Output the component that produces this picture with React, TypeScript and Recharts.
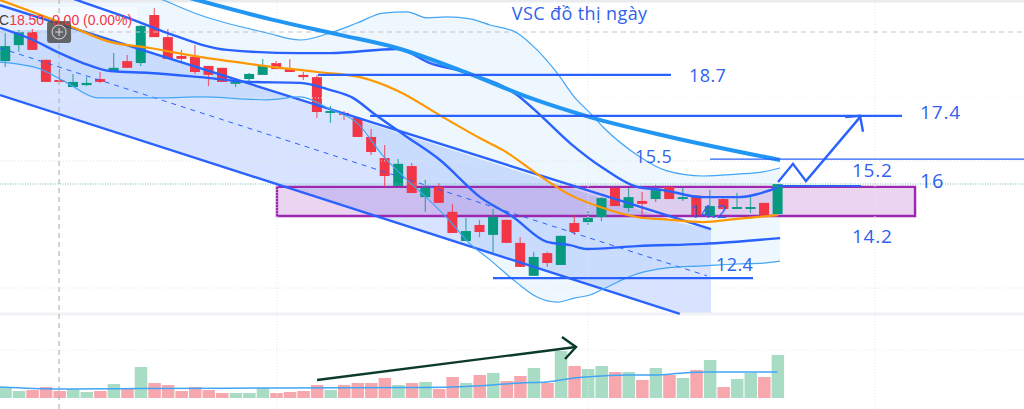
import {
  Area,
  Bar,
  ComposedChart,
  Line,
  ReferenceArea,
  ReferenceDot,
  ReferenceLine,
  XAxis,
  YAxis,
} from "recharts";

// daily candles, one entry per session
const opens = [19.09, 19.59, 20, 19.13, 18.5, 18.28, 18.34, 18.53, 18.75, 19.09, 19.03, 20.53, 19.84, 19.25, 19.22, 18.94, 18.88, 18.38, 18.53, 18.66, 19.03, 18.84, 18.66, 18.59, 17.47, 17.47, 17.31, 16.72, 16.06, 15.19, 15.81, 14.84, 15.16, 14.38, 13.47, 13.97, 13.66, 14.13, 13.41, 12.38, 13.09, 12.72, 14.03, 14.06, 14.22, 15.13, 14.5, 14.72, 14.78, 15.16, 14.78, 14.88, 14.25, 14.78, 14.47, 14.47, 14.66, 14.31];
const highs = [19.97, 20.06, 20.09, 19.13, 18.84, 18.69, 18.59, 18.75, 19.34, 19.28, 20.22, 20.75, 20.09, 19.44, 19.59, 18.94, 18.88, 18.53, 18.72, 19.16, 19.09, 19.16, 18.75, 18.66, 17.69, 17.53, 17.31, 16.97, 16.47, 16.03, 15.91, 15.38, 15.28, 14.63, 14.19, 14.13, 14.47, 14.13, 13.59, 13.13, 13.13, 13.63, 14.28, 14.41, 14.84, 15.13, 15.13, 15, 15.22, 15.16, 15.13, 14.91, 15.06, 14.81, 14.97, 14.88, 14.66, 15.25];
const lows = [18.91, 19.38, 19.44, 18.44, 18.41, 18.28, 18.31, 18.41, 18.75, 18.88, 18.94, 19.84, 19.16, 19.03, 18.69, 18.31, 18.44, 18.28, 18.44, 18.66, 18.84, 18.75, 18.5, 17.31, 17.16, 17.25, 16.72, 16.16, 15.16, 15.19, 14.97, 14.38, 14.66, 13.72, 13.47, 13.59, 13.09, 13.41, 12.66, 12.38, 12.66, 12.72, 13.66, 13.97, 14.09, 14.56, 14.38, 14.28, 14.69, 14.78, 14.72, 14.28, 14.25, 14.38, 14.47, 14.34, 14.28, 14.31];
const closes = [19.56, 20, 19.44, 18.44, 18.44, 18.44, 18.41, 18.44, 18.88, 18.88, 20.19, 19.84, 19.16, 19.16, 18.75, 18.66, 18.44, 18.47, 18.69, 18.94, 18.84, 18.75, 18.59, 17.5, 17.53, 17.41, 16.72, 16.25, 15.5, 15.88, 14.97, 15.13, 14.66, 13.72, 13.78, 13.75, 14.22, 13.41, 12.66, 12.97, 12.78, 13.63, 13.75, 14.19, 14.81, 14.56, 14.84, 14.63, 15.06, 14.78, 14.84, 14.28, 14.56, 14.47, 14.53, 14.53, 14.28, 15.25];
const volumes = [11, 7, 8, 11, 7, 9, 6, 7, 14, 10, 31, 15, 13, 7, 11, 8, 5, 5, 5, 10, 5, 6, 7, 13, 8, 13, 15, 15, 20, 13, 15, 16, 9, 21, 15, 23, 25, 17, 22, 30, 15, 47, 32, 29, 32, 26, 26, 18, 30, 23, 20, 28, 38, 11, 19, 25, 21, 43];

// overlays, read as [session, value]
const volumeAvg = [[-0.4, 11], [4, 9], [10, 9.5], [20, 10], [30, 10.5], [33, 11], [36, 13], [38, 15], [40, 16], [42, 20], [44, 22], [46, 23], [48, 23], [50, 25], [52, 26], [54, 26], [57, 26]];
const bbSessions = [-0.37, 2.36, 4.58, 6.86, 10.7, 11.66, 14.39, 19.34, 21.77, 23.99, 25.98, 27.9, 29.67, 31.14, 32.62, 34.32, 35.79, 37.79, 39.26, 40.74, 42.07, 43.17, 44.13, 46.64, 48.86, 51.51, 54.02, 55.94, 57.2];
const bbUpper = [22.25, 22, 21.78, 21.56, 21.16, 21, 20.53, 19.97, 19.75, 19.97, 20.28, 20.59, 20.63, 20.44, 20.47, 20.41, 20.22, 19.97, 19.44, 18.72, 17.94, 17.47, 17.03, 16.16, 15.66, 15.5, 15.56, 15.63, 15.75];
const bbLower = [19.06, 18.88, 18.41, 17.94, 17.94, 17.94, 17.97, 17.88, 17.97, 17.59, 17.16, 16.13, 15.38, 14.81, 14.19, 13.38, 12.88, 12.16, 11.72, 11.56, 11.69, 11.78, 11.97, 12.44, 12.63, 12.69, 12.75, 12.78, 12.84];
const bbBasis = [[-0.37, 20.13], [2.07, 19.75], [3.84, 19.38], [5.76, 19.03], [7.75, 18.78], [10.7, 18.72], [14.39, 18.59], [18.08, 18.44], [21.77, 18.41], [23.99, 18.19], [25.68, 17.94], [27.16, 17.47], [29.67, 16.72], [32.1, 16], [35.06, 14.84], [37.49, 14.22], [40, 13.44], [41.7, 13.34], [42.95, 13.22], [46.64, 13.31], [51.51, 13.38], [57.2, 13.56]];
const maFast = [[4.06, 21.19], [5.68, 20.94], [9.45, 20.38], [11.96, 19.97], [16.38, 19.44], [21.77, 19.34], [23.99, 19.34], [28.93, 19.47], [31.37, 19.03], [34.1, 18.72], [37.79, 18.03], [39.48, 17.41], [41.7, 16.53], [44.13, 15.75], [46.64, 15.16], [48.56, 15.06], [51.51, 14.84], [54.02, 14.84], [56.97, 15.13]];
const maSlow = [[13.65, 21.06], [19.78, 20.38], [24.72, 19.91], [28.93, 19.5], [34.1, 18.72], [38.75, 17.94], [43.17, 17.34], [49.08, 16.72], [57.2, 16]];
const maOrange = [[-0.37, 21], [4.58, 20.22], [7.75, 19.69], [10.7, 19.5], [14.39, 19.22], [18.08, 19], [23.03, 18.75], [26.2, 18.59], [29, 18.16], [32.32, 17.34], [35.28, 16.63], [36.75, 16.31], [39.48, 15.5], [41.7, 14.91], [44.13, 14.5], [46.64, 14.22], [49.08, 14.13], [51.51, 14.06], [54.02, 14.16], [57.05, 14.28]];

// hand drawn channel and levels
const channelFill = [{ x: -0.37, band: [18.03, 20.84] }, { x: 49.8, band: [11.19, 14.03] }, { x: 52.1, band: [11.19, 13.84] }];
const channelUpper = [[-0.37, 20.84], [52.1, 13.84]];
const channelMid = [[-0.37, 19.5], [51.8, 12.38]];
const channelLower = [[-0.37, 18.03], [49.8, 11.19]];
const level187 = [[23.1, 18.66], [49.15, 18.66]];
const level174 = [[26.94, 17.38], [66.2, 17.38]];
const level155 = [[52.03, 16.03], [75.2, 16.03]];
const level152 = [[57.05, 15.19], [63.17, 15.19]];
const level124 = [[36.01, 12.31], [55.2, 12.31]];
const arrowPath = [[57.05, 15.31], [58.15, 15.88], [59.11, 15.34], [63.1, 17.34]];
const arrowHead = [[62, 17.34], [63.1, 17.38], [63.32, 16.88]];
const volumeArrow = [[23.03, 18], [42.14, 51]];
const volumeArrowHead = [[41.1, 61], [42.14, 51], [41.33, 39]];

const RED = "#f23645";
const GREEN = "#089981";
const BLUE = "#2962ff";
const TEXT_BLUE = "#2f62ee";

const rows = opens.map((open, i) => ({
  x: i,
  open,
  close: closes[i],
  range: [lows[i], highs[i]],
  volume: volumes[i],
}));

const points = (pairs: number[][]) => pairs.map(([x, p]) => ({ x, p }));
const bbRows = bbSessions.map((x, i) => ({ x, upper: bbUpper[i], lower: bbLower[i], band: [bbLower[i], bbUpper[i]] }));

function Candle(props: any) {
  const { x, y, width, height, payload } = props;
  const [low, high] = payload.range;
  const toY = (v: number) => y + ((high - v) / (high - low)) * height;
  const color = payload.close < payload.open ? RED : GREEN;
  const top = toY(Math.max(payload.open, payload.close));
  const bottom = toY(Math.min(payload.open, payload.close));
  const cx = x + width / 2;
  return (
    <g>
      <line x1={cx} x2={cx} y1={y} y2={y + height} stroke={color} strokeWidth={1.2} strokeOpacity={0.75} />
      <rect x={x} y={top} width={width} height={Math.max(bottom - top, 1.5)} fill={color} />
    </g>
  );
}

function VolumeBar(props: any) {
  const { x, y, width, height, payload } = props;
  return <rect x={x} y={y} width={width} height={height} fill={payload.close < payload.open ? "#f7a8ae" : "#a9dcc4"} />;
}

function Note({ text, x, p, size, spacing = 0.4 }: { text: string; x: number; p: number; size: number; spacing?: number }) {
  return (
    <ReferenceDot
      yAxisId="price"
      x={x}
      y={p}
      r={0}
      ifOverflow="visible"
      shape={(s: any) => (
        <text x={s.cx} y={s.cy} fill={TEXT_BLUE} fontFamily="'Open Sans'" fontSize={size} letterSpacing={spacing}>
          {text}
        </text>
      )}
    />
  );
}

function Stroke({ data, color, width, dash, axis = "price", curve = "linear" }: { data: number[][]; color: string; width: number; dash?: string; axis?: string; curve?: any }) {
  return (
    <Line
      yAxisId={axis}
      data={points(data)}
      dataKey="p"
      type={curve}
      stroke={color}
      strokeWidth={width}
      strokeDasharray={dash}
      dot={false}
      activeDot={false}
      legendType="none"
      isAnimationActive={false}
    />
  );
}

export default function App() {
  return (
    <div style={{ position: "absolute", left: 0, top: 0, width: 1024, height: 409, overflow: "hidden", background: "#fff" }}>
      <ComposedChart width={1024} height={409} data={rows} margin={{ top: 0, right: 0, bottom: 0, left: 0 }}>
        <XAxis dataKey="x" type="number" domain={[-0.37, 75.2]} allowDataOverflow hide />
        {/* bars get their own x axes: band size comes from the gaps between the x values on an axis */}
        <XAxis xAxisId="candles" dataKey="x" type="number" domain={[-0.37, 75.2]} allowDataOverflow hide />
        <XAxis xAxisId="volumes" dataKey="x" type="number" domain={[-0.37, 75.2]} allowDataOverflow hide />
        <YAxis yAxisId="price" domain={[8.21875, 21]} allowDataOverflow hide />
        <YAxis yAxisId="vol" domain={[-11, 398]} allowDataOverflow hide />

        {/* grid and price lines */}
        <ReferenceLine yAxisId="price" y={17.94} stroke="#eef0f3" strokeDasharray="1 2" />
        <ReferenceLine yAxisId="price" y={15.97} stroke="#dfe3e8" strokeDasharray="1 2" />
        <ReferenceLine yAxisId="price" y={12} stroke="#dfe3e8" strokeDasharray="1 2" />
        <ReferenceLine yAxisId="vol" y={48} stroke="#e6e8ec" strokeDasharray="1 2" />
        <ReferenceLine yAxisId="price" x={20.07} stroke="#e6e8ec" strokeDasharray="1 2" />
        <ReferenceLine yAxisId="price" x={43.03} stroke="#e6e8ec" strokeDasharray="1 2" />
        <ReferenceLine yAxisId="price" x={64.2} stroke="#e6e8ec" strokeDasharray="1 2" />
        <ReferenceLine yAxisId="price" y={11.19} stroke="#f0f2f5" strokeWidth={3} />
        <ReferenceLine yAxisId="price" y={20.97} stroke="#e9ebee" strokeWidth={3} />
        <ReferenceLine yAxisId="price" x={3.99} stroke="#b5b5b5" strokeDasharray="5 4" strokeWidth={1.2} />
        <ReferenceLine yAxisId="price" y={20} stroke="#c4c4c4" strokeDasharray="5 4" strokeWidth={1.2} />

        <Area yAxisId="price" data={bbRows} dataKey="band" type="monotone" stroke="none" fill="#2196f3" fillOpacity={0.08} legendType="none" dot={false} activeDot={false} isAnimationActive={false} />
        <Area yAxisId="price" data={channelFill} dataKey="band" type="linear" stroke="none" fill="#2962ff" fillOpacity={0.18} legendType="none" dot={false} activeDot={false} isAnimationActive={false} />

        <ReferenceArea yAxisId="price" x1={20.07} x2={67.16} y1={14.25} y2={15.16} fill="#9c27b0" fillOpacity={0.2} stroke="#9c27b0" strokeWidth={2.4} ifOverflow="visible" />

        <ReferenceLine yAxisId="price" y={15.25} stroke="#6fb9a8" strokeDasharray="1 1.5" />

        <Note text="14.2" x={50.55} p={14.19} size={18} />

        {Stroke({ data: channelUpper, color: BLUE, width: 2.4 })}
        {Stroke({ data: channelLower, color: BLUE, width: 2.4 })}
        {Stroke({ data: channelMid, color: BLUE, width: 1, dash: "5 5" })}

        {Stroke({ data: bbRows.map((r) => [r.x, r.upper]), color: "#42a5f5", width: 1.2, curve: "monotone" })}
        {Stroke({ data: bbRows.map((r) => [r.x, r.lower]), color: "#42a5f5", width: 1.2, curve: "monotone" })}
        {Stroke({ data: bbBasis, color: BLUE, width: 2.4, curve: "monotone" })}
        {Stroke({ data: maFast, color: BLUE, width: 2.4, curve: "monotone" })}
        {Stroke({ data: maOrange, color: "#ff9800", width: 2.2, curve: "monotone" })}
        {Stroke({ data: maSlow, color: "#2196f3", width: 4, curve: "monotone" })}

        {Stroke({ data: level187, color: BLUE, width: 2.4 })}
        {Stroke({ data: level174, color: BLUE, width: 2.4 })}
        {Stroke({ data: level155, color: BLUE, width: 1.2 })}
        {Stroke({ data: level152, color: BLUE, width: 1.6 })}
        {Stroke({ data: level124, color: BLUE, width: 2.4 })}
        {Stroke({ data: arrowPath, color: BLUE, width: 2.4 })}
        {Stroke({ data: arrowHead, color: BLUE, width: 2.4 })}

        <Bar xAxisId="volumes" yAxisId="vol" dataKey="volume" barSize={12.5} shape={VolumeBar} isAnimationActive={false} />
        <Bar xAxisId="candles" yAxisId="price" dataKey="range" barSize={10} shape={Candle} isAnimationActive={false} />

        {Stroke({ data: volumeAvg, color: "#42a5f5", width: 1.5, axis: "vol", curve: "monotone" })}
        {Stroke({ data: volumeArrow, color: "#0c3b2e", width: 2.4, axis: "vol" })}
        {Stroke({ data: volumeArrowHead, color: "#0c3b2e", width: 2.4, axis: "vol" })}

        <ReferenceArea yAxisId="price" x1={-0.37} x2={9.75} y1={20.06} y2={20.78} fill="#ffffff" fillOpacity={0.55} stroke="none" ifOverflow="visible" />
        <ReferenceDot
          yAxisId="price"
          x={3.99}
          y={20}
          r={0}
          ifOverflow="visible"
          shape={(s: any) => (
            <g>
              <rect x={s.cx - 12} y={s.cy - 11} width={24} height={22} rx={3} fill="#4d4d4d" fillOpacity={0.85} />
              <circle cx={s.cx} cy={s.cy} r={7} fill="none" stroke="#ddd" strokeWidth={1} />
              <path d={`M${s.cx - 4} ${s.cy}H${s.cx + 4}M${s.cx} ${s.cy - 4}V${s.cy + 4}`} stroke="#ddd" strokeWidth={1} />
            </g>
          )}
        />
        <ReferenceDot
          yAxisId="price"
          x={-0.37}
          y={20.22}
          r={0}
          ifOverflow="visible"
          shape={(s: any) => (
            <text x={s.cx - 1} y={s.cy} fontFamily="'Liberation Sans'" fontSize={14} fill={RED} xmlSpace="preserve">
              <tspan fill="#444">C</tspan>18.50  0.00 (0.00%)
            </text>
          )}
        />

        <Note text="VSC đồ thị ngày" x={37.4} p={20.38} size={18} />
        <Note text="18.7" x={50.48} p={18.44} size={18} />
        <Note text="17.4" x={67.53} p={17.28} size={19} spacing={0.8} />
        <Note text="15.5" x={46.49} p={15.91} size={18} />
        <Note text="15.2" x={62.5} p={15.47} size={19} spacing={0.8} />
        <Note text="16" x={67.53} p={15.13} size={20} />
        <Note text="14.2" x={62.5} p={13.41} size={19} spacing={0.8} />
        <Note text="12.4" x={52.47} p={12.53} size={18} />
      </ComposedChart>
    </div>
  );
}
